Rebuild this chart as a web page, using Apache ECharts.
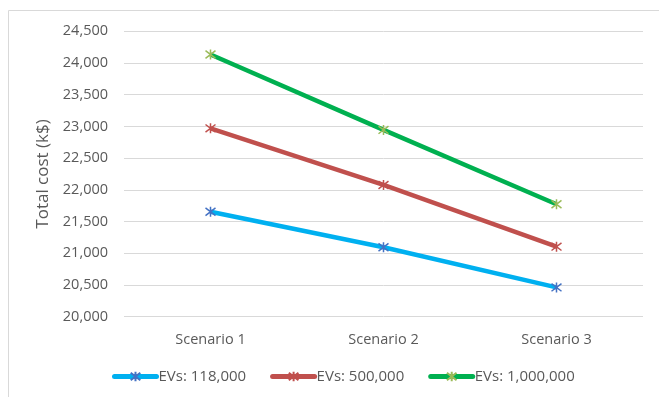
<!DOCTYPE html>
<html><head><meta charset="utf-8">
<script src="https://cdn.jsdelivr.net/npm/echarts@6/dist/echarts.min.js"></script>
<style>html,body{margin:0;padding:0;background:#fff}#c{width:659px;height:397px}</style>
</head><body><div id="c"></div>
<script>
const categories = ['Scenario 1', 'Scenario 2', 'Scenario 3'];
const seriesNames = ['EVs: 118,000', 'EVs: 500,000', 'EVs: 1,000,000'];
const evs118k = [21655, 21095, 20462];
const evs500k = [22970, 22077, 21104];
const evs1m = [24135, 22945, 21773];
const lineColors = ['#00B0F0', '#C0504D', '#00B050'];
const markerColors = ['#4472C4', '#C0504D', '#9BBB59'];
const values = [evs118k, evs500k, evs1m];
const font = 'Open Sans';
const star = 'path://M0,0L10,10M10,0L0,10M5,-1.5L5,11.5';
const chart = echarts.init(document.getElementById('c'), null, {renderer: 'canvas'});
chart.setOption({
  animation: false,
  graphic: [
    {type: 'line', shape: {x1: 8.5, y1: 10.5, x2: 659, y2: 10.5}, style: {stroke: '#D9D9D9', lineWidth: 1}},
    {type: 'line', shape: {x1: 8.5, y1: 10.5, x2: 8.5, y2: 397}, style: {stroke: '#D9D9D9', lineWidth: 1}}
  ],
  grid: {left: 124, right: 16, top: 31.3, bottom: 80.3, containLabel: false},
  xAxis: {
    type: 'category', data: categories, boundaryGap: true,
    axisLine: {show: false}, axisTick: {show: false},
    axisLabel: {color: '#595959', fontFamily: font, fontSize: 14.5, margin: 16}
  },
  yAxis: {
    type: 'value', min: 20000, max: 24500, interval: 500,
    name: 'Total cost (k$)', nameLocation: 'middle', nameGap: 72, nameRotate: 90,
    nameTextStyle: {color: '#595959', fontFamily: font, fontSize: 17},
    axisLine: {show: false}, axisTick: {show: false},
    axisLabel: {color: '#595959', fontFamily: font, fontSize: 14.5, margin: 16,
      formatter: v => v.toLocaleString('en-US')},
    splitLine: {lineStyle: {color: '#D9D9D9', width: 1}}
  },
  legend: {
    bottom: 8, left: 107, itemGap: 24, itemWidth: 42, itemHeight: 12,
    textStyle: {color: '#595959', fontFamily: font, fontSize: 15, padding: [0,0,0,-3]},
    lineStyle: {width: 5, cap: 'round'},
    data: seriesNames
  },
  series: values.map((d, i) => ({
    name: seriesNames[i], type: 'line', data: d,
    symbol: star, symbolSize: 10,
    lineStyle: {color: lineColors[i], width: 4.5},
    itemStyle: {color: 'rgba(0,0,0,0)', borderColor: markerColors[i], borderWidth: 1.5},
    z: 2 + i
  }))
});
</script></body></html>
